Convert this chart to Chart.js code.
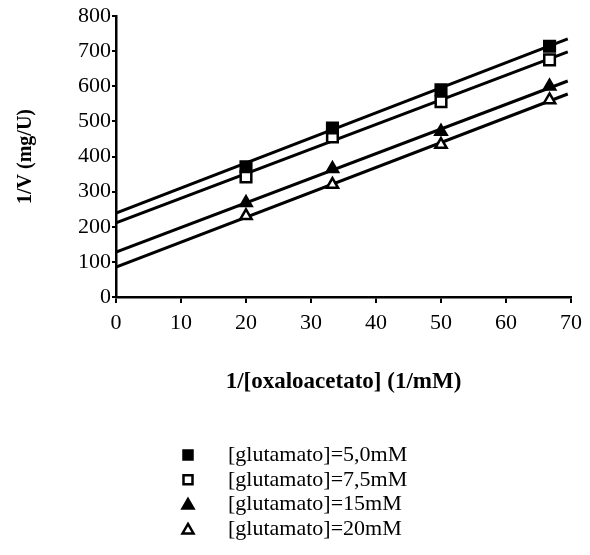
<!DOCTYPE html>
<html>
<head>
<meta charset="utf-8">
<script src="https://cdn.jsdelivr.net/npm/chart.js@4"></script>
<style>
  html, body { margin: 0; padding: 0; background: #fff; }
  #wrap { width: 590px; height: 555px; }
</style>
</head>
<body>
<div id="wrap"><canvas id="chart" width="590" height="555"></canvas></div>
<script>
// 1/[oxaloacetato] (1/mM)
const xValues = [20, 33.3, 50, 66.7];

// 1/V (mg/U) per glutamate concentration
const glu50 = [371, 481, 590, 714];
const glu75 = [342, 456, 556, 675];
const glu15 = [268, 365, 471, 600];
const glu20 = [231, 320, 434, 561];

// fitted lines, read at both ends
const fitX = [0, 69.5];
const fit50 = [239, 735];
const fit75 = [211, 698];
const fit15 = [128, 615];
const fit20 = [85, 578];

const seriesNames = [
  "[glutamato]=5,0mM",
  "[glutamato]=7,5mM",
  "[glutamato]=15mM",
  "[glutamato]=20mM",
];

const xTicks = [0, 10, 20, 30, 40, 50, 60, 70];
const yTicks = [0, 100, 200, 300, 400, 500, 600, 700, 800];

const toPoints = (xs, ys) => xs.map((x, i) => ({ x: x, y: ys[i] }));

const markers = [
  { data: glu50, style: "rect", fill: "#000", radius: 7.5 },
  { data: glu75, style: "rect", fill: "#fff", radius: 7.5 },
  { data: glu15, style: "triangle", fill: "#000", radius: 6.5 },
  { data: glu20, style: "triangle", fill: "#fff", radius: 6.5 },
];
const fits = [fit50, fit75, fit15, fit20];

const datasets = [];
markers.forEach((m, i) => {
  datasets.push({
    label: seriesNames[i],
    data: toPoints(xValues, m.data),
    showLine: false,
    pointStyle: m.style,
    pointRadius: m.radius,
    backgroundColor: m.fill,
    borderColor: "#000",
    borderWidth: 2.5,
  });
});
fits.forEach((f) => {
  datasets.push({
    label: "",
    data: toPoints(fitX, f),
    showLine: true,
    pointRadius: 0,
    borderColor: "#000",
    borderWidth: 3,
  });
});

// Legenda vertikal di bawah grafik
const legendPlugin = {
  id: "vertLegend",
  afterDraw(chart) {
    const ctx = chart.ctx;
    const x0 = 188, tx = 228, y0 = 455, step = 24.8;
    ctx.save();
    ctx.font = "22px 'Liberation Serif'";
    ctx.textBaseline = "middle";
    markers.forEach((m, i) => {
      const y = y0 + i * step;
      ctx.lineWidth = 2.5;
      ctx.strokeStyle = "#000";
      ctx.fillStyle = m.fill;
      ctx.beginPath();
      if (m.style === "rect") {
        ctx.rect(x0 - 4.5, y - 4.5, 9, 9);
      } else {
        ctx.moveTo(x0, y - 5.5);
        ctx.lineTo(x0 + 5.5, y + 4);
        ctx.lineTo(x0 - 5.5, y + 4);
        ctx.closePath();
      }
      ctx.fill();
      ctx.stroke();
      ctx.fillStyle = "#000";
      ctx.fillText(seriesNames[i], tx, y);
    });
    ctx.restore();
  },
};

new Chart(document.getElementById("chart").getContext("2d"), {
  type: "scatter",
  data: { datasets: datasets },
  plugins: [legendPlugin],
  options: {
    responsive: false,
    animation: false,
    layout: { padding: { left: 10, right: 19, top: 16, bottom: 155 } },
    plugins: { legend: { display: false }, tooltip: { enabled: false } },
    scales: {
      x: {
        type: "linear",
        min: 0,
        max: 70,
        afterFit: (scale) => { scale.height = 103; },
        afterBuildTicks: (scale) => { scale.ticks = xTicks.map((v) => ({ value: v })); },
        ticks: { color: "#000", padding: 7, font: { family: "Liberation Serif", size: 22 } },
        grid: { display: true, drawOnChartArea: false, drawTicks: true, tickLength: 6, color: "#000", lineWidth: 2 },
        border: { color: "#000", width: 2.5 },
        title: {
          display: true,
          text: "1/[oxaloacetato] (1/mM)",
          color: "#000",
          font: { family: "Liberation Serif", size: 23, weight: "bold" },
        },
      },
      y: {
        min: 0,
        max: 800,
        afterFit: (scale) => { scale.width = 106; },
        afterBuildTicks: (scale) => { scale.ticks = yTicks.map((v) => ({ value: v })); },
        ticks: { color: "#000", padding: 1, font: { family: "Liberation Serif", size: 22 } },
        grid: { display: true, drawOnChartArea: false, drawTicks: true, tickLength: 4, color: "#000", lineWidth: 2 },
        border: { color: "#000", width: 2.5 },
        title: {
          display: true,
          text: "1/V (mg/U)",
          color: "#000",
          font: { family: "Liberation Serif", size: 20, weight: "bold" },
        },
      },
    },
  },
});
</script>
</body>
</html>
